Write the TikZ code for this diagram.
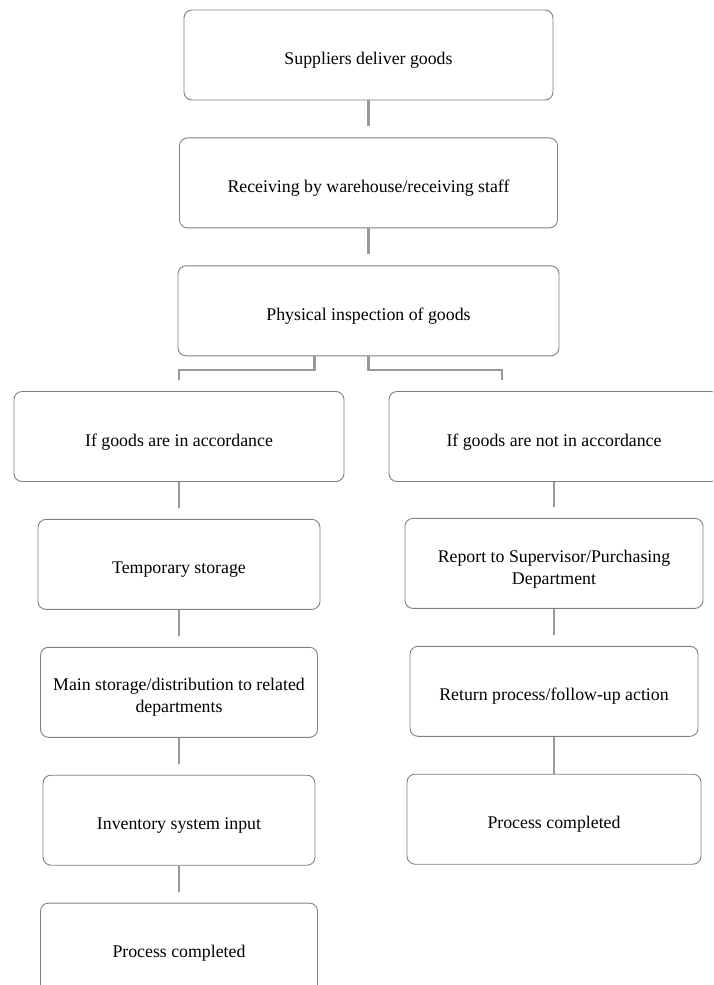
\documentclass[tikz,border=0pt]{standalone}
\usepackage{fontspec}
\setmainfont{Liberation Serif}
\usepackage{tikz}
\usetikzlibrary{positioning}
\newcommand{\lift}{\rule{0pt}{23pt}}
\tikzset{main node/.style={rectangle, draw=black!50, line width=0.9pt, rounded corners=8pt, minimum height=90pt, align=center, font=\fontsize{17.8}{22}\selectfont, execute at begin node={\lift}},
link/.style={draw=black!40, line width=2.2pt, shorten >=11pt},}

\begin{document}
\begin{tikzpicture}[x=1pt, y=-1pt]
        \clip (0,0) rectangle (713,985);
        % Nodes
        \node[main node, minimum width=369pt] (1) at (368.5,55) {Suppliers deliver goods};
        \node[main node, minimum width=378pt] [below = 37pt of 1] (2) {Receiving by warehouse/receiving staff};
        \node[main node, minimum width=381pt] [below = 37pt of 2] (3) {Physical inspection of goods};
        \node[main node, minimum width=330pt] (4) at (179,436.5) {If goods are in accordance};
        \node[main node, minimum width=330pt] (5) at (554,436.5) {If goods are not in accordance};
        \node[main node, minimum width=282pt] [below = 37pt of 4] (6) {Temporary storage};
        \node[main node, minimum width=277pt] [below = 37pt of 6] (7) {\lift Main storage/distribution to related\\departments};
        \node[main node, minimum width=272pt] [below = 37pt of 7] (8) {Inventory system input};
        \node[main node, minimum width=277pt] [below = 37pt of 8] (9) {Process completed};
        \node[main node, minimum width=298pt] [below = 36pt of 5] (10) {\lift Report to Supervisor/Purchasing\\Department};
        \node[main node, minimum width=288pt] [below = 37pt of 10] (11) {Return process/follow-up action};
        \node[main node, minimum width=294pt] [below = 37pt of 11] (12) {Process completed};
        % Paths
        \path
        (1.south) edge [link] (2.north)
        (2.south) edge [link] (3.north)
        (4.south) edge [link] (6.north)
        (6.south) edge [link] (7.north)
        (7.south) edge [link] (8.north)
        (8.south) edge [link] (9.north)
        (5.south) edge [link] (10.north)
        (10.south) edge [link] (11.north)
        (11.south) edge [link, shorten >=0pt] (12.north);
        \draw[link, shorten >=0pt] ([xshift=-54pt]3.south) -- ++(0,14) -| ([yshift=11pt]4.north);
        \draw[link, shorten >=0pt] (3.south) -- ++(0,14) -| ([xshift=-52pt, yshift=11pt]5.north);
    \end{tikzpicture}
\end{document}
